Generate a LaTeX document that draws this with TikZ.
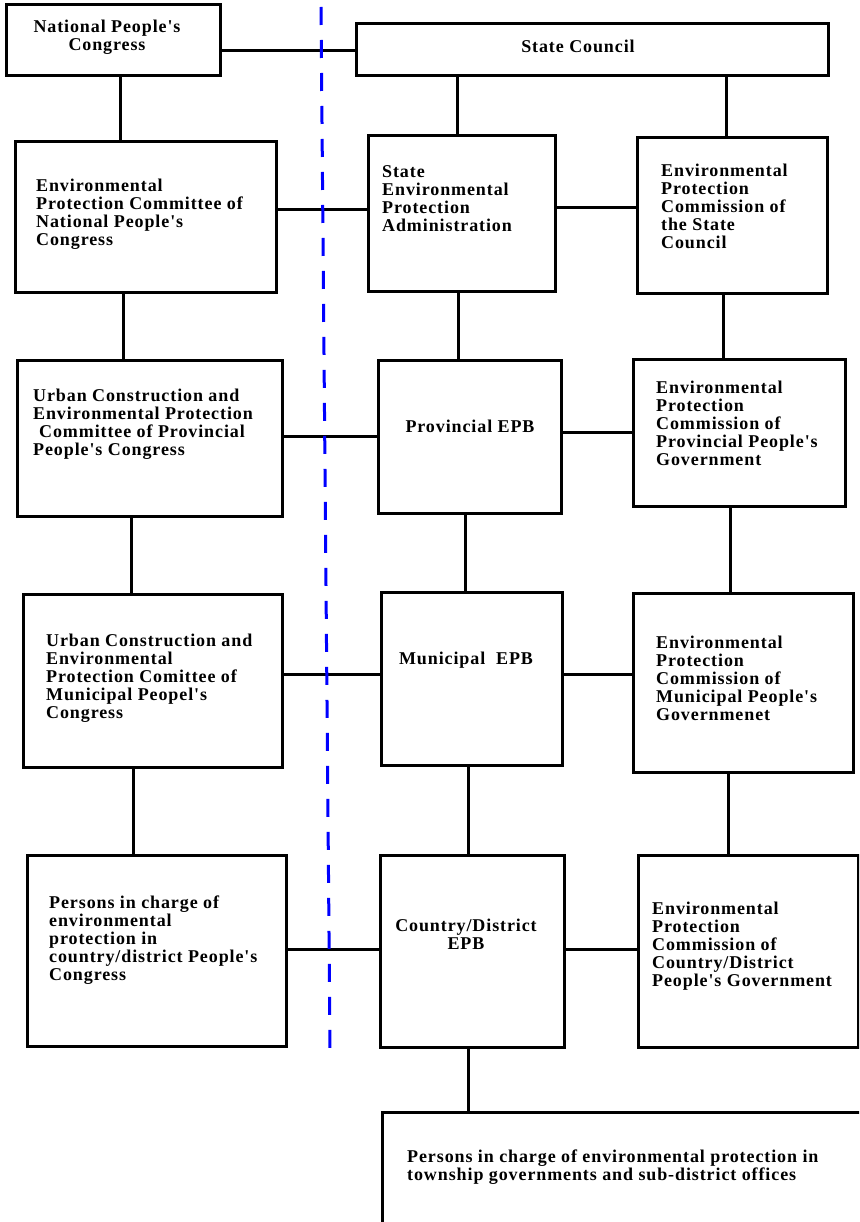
\documentclass[tikz,border=0pt]{standalone}
\usepackage{fontspec}
\usetikzlibrary{fit}
\newfontfamily\boxfont{Liberation Serif}[LetterSpace=5]
\begin{document}
\begin{tikzpicture}[x=1pt,y=-1pt,
  orgbox/.style={draw=black, line width=3pt, inner sep=0pt},
  conn/.style={draw=black, line width=3pt},
  divider/.style={draw={rgb,255:red,0;green,0;blue,255}, line width=3pt, dash pattern=on 18pt off 15pt},
  lbl/.style={inner sep=0pt, font=\boxfont\bfseries\fontsize{18}{18}\selectfont},
  lblL/.style={lbl, align=left, anchor=north west},
  lblC/.style={lbl, align=center, anchor=north}]
\clip (0,0) rectangle (859,1222);
\fill[white] (0,0) rectangle (859,1222);
% boxes
\node[orgbox, fit={(6,5) (220,76)}] (A) {};
\node[orgbox, fit={(356,24) (828,76)}] (B) {};
\node[orgbox, fit={(15,142) (276,293)}] (C) {};
\node[orgbox, fit={(368,136) (555,292)}] (D) {};
\node[orgbox, fit={(637,138) (827,294)}] (E) {};
\node[orgbox, fit={(17,360) (282,516)}] (F) {};
\node[orgbox, fit={(378,360) (561,513)}] (G) {};
\node[orgbox, fit={(633,359) (845,506)}] (H) {};
\node[orgbox, fit={(23,594) (282,767)}] (I) {};
\node[orgbox, fit={(381,592) (562,765)}] (J) {};
\node[orgbox, fit={(633,593) (853,772)}] (K) {};
\node[orgbox, fit={(27,855) (286,1046)}] (L) {};
\node[orgbox, fit={(380,855) (564,1047)}] (M) {};
\node[orgbox, fit={(638,855) (858,1047)}] (N) {};
\node[orgbox, fit={(382,1112) (864,1228)}] (O) {};
% texts
\node[lblC] (tA) at (107,20) {National People's\\Congress};
\node[lbl, anchor=base] (tB) at (578,53) {State Council};
\node[lblL] (tC) at (36,179) {Environmental\\Protection Committee of\\National People's\\Congress};
\node[lblL] (tD) at (382,165) {State\\Environmental\\Protection\\Administration};
\node[lblL] (tE) at (661,164) {Environmental\\Protection\\Commission of\\the State\\Council};
\node[lblL] (tF) at (33,389) {Urban Construction and\\Environmental Protection\\\hspace*{6pt}Committee of Provincial\\People's Congress};
\node[lbl, anchor=base] (tG) at (470,432) {Provincial EPB};
\node[lblL] (tH) at (656,381) {Environmental\\Protection\\Commission of\\Provincial People's\\Government};
\node[lblL] (tI) at (46,634) {Urban Construction and\\Environmental\\Protection Comittee of\\Municipal Peopel's\\Congress};
\node[lbl, anchor=base] (tJ) at (466,664) {Municipal\ \ EPB};
\node[lblL] (tK) at (656,636) {Environmental\\Protection\\Commission of\\Municipal People's\\Governmenet};
\node[lblL] (tL) at (49,896) {Persons in charge of\\environmental\\protection in\\country/district People's\\Congress};
\node[lblC] (tM) at (466,919) {Country/District\\EPB};
\node[lblL] (tN) at (652,902) {Environmental\\Protection\\Commission of\\Country/District\\People's Government};
\node[lblL] (tO) at (407,1150) {Persons in charge of environmental protection in\\township governments and sub-district offices};
% connectors
\draw[conn] (A.east |- 0,51) -- (B.west |- 0,51);
\draw[conn] (A.south -| 120,0) -- (C.north -| 120,0);
\draw[conn] (B.south -| 457,0) -- (D.north -| 457,0);
\draw[conn] (B.south -| 726,0) -- (E.north -| 726,0);
\draw[conn] (C.east |- 0,210) -- (D.west |- 0,210);
\draw[conn] (D.east |- 0,208) -- (E.west |- 0,208);
\draw[conn] (C.south -| 123,0) -- (F.north -| 123,0);
\draw[conn] (D.south -| 458,0) -- (G.north -| 458,0);
\draw[conn] (E.south -| 723,0) -- (H.north -| 723,0);
\draw[conn] (F.east |- 0,436) -- (G.west |- 0,436);
\draw[conn] (G.east |- 0,432) -- (H.west |- 0,432);
\draw[conn] (F.south -| 131,0) -- (I.north -| 131,0);
\draw[conn] (G.south -| 465,0) -- (J.north -| 465,0);
\draw[conn] (H.south -| 730,0) -- (K.north -| 730,0);
\draw[conn] (I.east |- 0,674) -- (J.west |- 0,674);
\draw[conn] (J.east |- 0,674) -- (K.west |- 0,674);
\draw[conn] (I.south -| 133,0) -- (L.north -| 133,0);
\draw[conn] (J.south -| 468,0) -- (M.north -| 468,0);
\draw[conn] (K.south -| 728,0) -- (N.north -| 728,0);
\draw[conn] (L.east |- 0,949) -- (M.west |- 0,949);
\draw[conn] (M.east |- 0,949) -- (N.west |- 0,949);
\draw[conn] (M.south -| 468,0) -- (O.north -| 468,0);
% dashed divider
\coordinate (dtop) at (321,7);
\coordinate (dbot) at (330,1049);
\draw[divider] (dtop) -- (dbot);
\end{tikzpicture}
\end{document}
